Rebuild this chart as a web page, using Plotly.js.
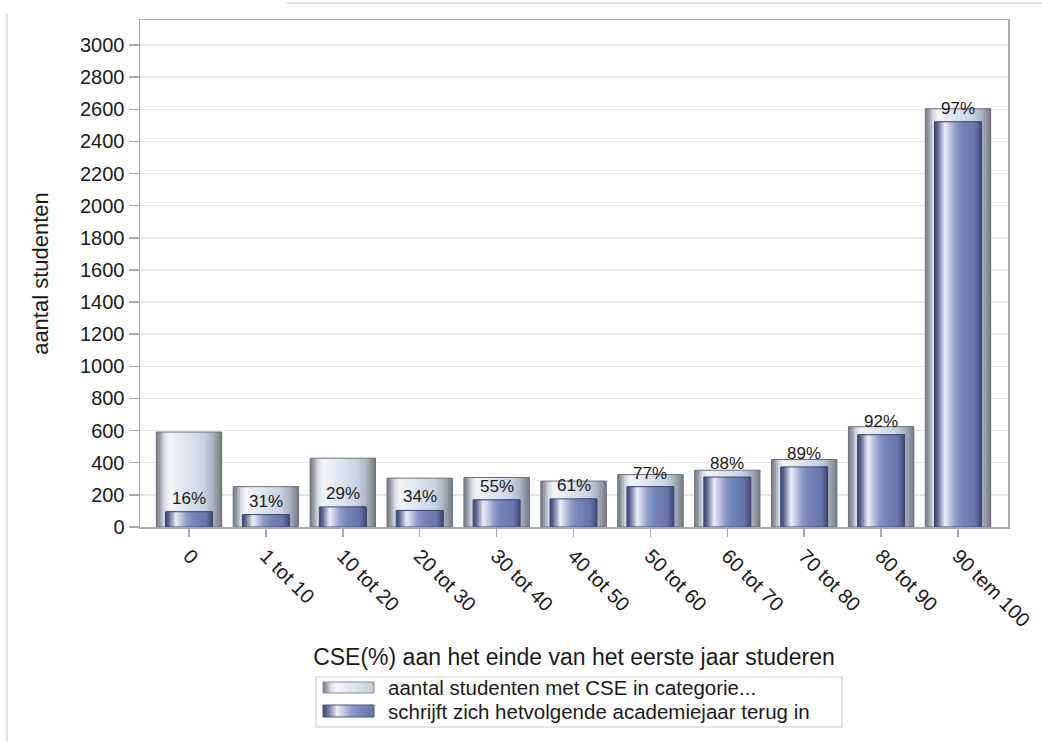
<!DOCTYPE html>
<html>
<head>
<meta charset="utf-8">
<script src="https://cdn.plot.ly/plotly-3.0.1.min.js"></script>
<style>
  html, body { margin: 0; padding: 0; background: #ffffff; }
  #chart { width: 1042px; height: 742px; }
</style>
</head>
<body>
<div id="chart"></div>
<script>
// ---------- data ----------
const categories = ['0', '1 tot 10', '10 tot 20', '20 tot 30', '30 tot 40', '40 tot 50',
                    '50 tot 60', '60 tot 70', '70 tot 80', '80 tot 90', '90 tem 100'];
const totalStudents = [591, 251, 428, 304, 308, 286, 326, 353, 420, 624, 2603];
const reEnrolled    = [95, 77, 125, 103, 169, 175, 251, 311, 374, 574, 2522];
const pctLabels     = ['16%', '31%', '29%', '34%', '55%', '61%', '77%', '88%', '89%', '92%', '97%'];
const seriesNames   = ['aantal studenten met CSE in categorie...',
                       'schrijft zich hetvolgende academiejaar terug in'];
const yTickValues   = [0, 200, 400, 600, 800, 1000, 1200, 1400, 1600, 1800, 2000, 2200, 2400, 2600, 2800, 3000];

// ---------- styling helpers ----------
const FONT = '"Liberation Sans", Arial, Helvetica, sans-serif';
const outerStops = [[0, '#737983'], [0.05, '#949ba5'], [0.12, '#d6dbe3'], [0.2, '#f3f5f9'],
                    [0.45, '#dfe6ef'], [0.72, '#c9d4e3'], [0.85, '#aeb7c3'], [0.94, '#8d949e'], [1, '#737983']];
const innerStops = [[0, '#3d4674'], [0.06, '#57618f'], [0.22, '#eceef7'], [0.45, '#8f9bca'],
                    [0.6, '#7484b8'], [0.85, '#6878ae'], [0.94, '#525d92'], [1, '#3d4674']];

function hexToRgb(h) {
  return [parseInt(h.slice(1, 3), 16), parseInt(h.slice(3, 5), 16), parseInt(h.slice(5, 7), 16)];
}
function gradColor(stops, t) {
  for (let i = 0; i < stops.length - 1; i++) {
    const [t0, c0] = stops[i], [t1, c1] = stops[i + 1];
    if (t >= t0 && t <= t1) {
      const f = (t - t0) / (t1 - t0 || 1);
      const a = hexToRgb(c0), b = hexToRgb(c1);
      const r = a.map((v, j) => Math.round(v + (b[j] - v) * f));
      return 'rgb(' + r.join(',') + ')';
    }
  }
  return stops[stops.length - 1][1];
}

const OUTER_W = 0.85, INNER_W = 0.61, N = 30;
const traces = [];

function addGradientBars(values, width, stops) {
  for (let k = 0; k < N; k++) {
    traces.push({
      type: 'bar', x: categories, y: values,
      width: width - k * width / N,
      offset: -width / 2 + k * width / N,
      marker: { color: gradColor(stops, (k + 0.5) / N), line: { width: 0 } },
      hoverinfo: 'skip', showlegend: false
    });
  }
}

addGradientBars(totalStudents, OUTER_W, outerStops);
traces.push({
  type: 'bar', x: categories, y: totalStudents, width: OUTER_W, name: seriesNames[0],
  marker: { color: 'rgba(0,0,0,0)', line: { color: '#6d737c', width: 1 } },
  hoverinfo: 'skip', showlegend: false
});
addGradientBars(reEnrolled, INNER_W, innerStops);
traces.push({
  type: 'bar', x: categories, y: reEnrolled, width: INNER_W, name: seriesNames[1],
  marker: { color: 'rgba(0,0,0,0)', line: { color: '#3c4572', width: 1 } },
  hoverinfo: 'skip', showlegend: false
});

// ---------- pixel helpers for layout decorations ----------
const W = 1042, H = 742, ML = 140, MR = 34, MT = 20, MB = 215;
const PW = W - ML - MR, PH = H - MT - MB;
const px = x => (x - ML) / PW;
const py = y => (H - MB - y) / PH;

const shapes = [];
const annotations = [];

// percentage labels above the re-enrolled bars
categories.forEach((c, i) => {
  annotations.push({ x: c, y: reEnrolled[i], xref: 'x', yref: 'y', text: pctLabels[i],
                     showarrow: false, xanchor: 'center', yanchor: 'bottom', yshift: 3, borderpad: 0,
                     font: { family: FONT, size: 17, color: '#1a1a1a' } });
});

// legend box
shapes.push({ type: 'rect', xref: 'paper', yref: 'paper', x0: px(316), x1: px(842), y0: py(727), y1: py(677),
              line: { color: '#c8c8c8', width: 1 }, fillcolor: '#ffffff', layer: 'above' });
const swatches = [[682, 693, outerStops, '#8a9099'], [705, 717, innerStops, '#4a5380']];
const SW = 24;
swatches.forEach(([top, bot, stops, lineCol], i) => {
  const x0 = 323, x1 = 374;
  for (let k = 0; k < SW; k++) {
    const a = x0 + (x1 - x0) * k / SW, b = x0 + (x1 - x0) * (k + 1) / SW + 0.6;
    shapes.push({ type: 'rect', xref: 'paper', yref: 'paper', x0: px(a), x1: px(Math.min(b, x1)),
                  y0: py(bot), y1: py(top), line: { width: 0 },
                  fillcolor: gradColor(stops, 0.8 * (k + 0.5) / SW), layer: 'above' });
  }
  shapes.push({ type: 'rect', xref: 'paper', yref: 'paper', x0: px(x0), x1: px(x1), y0: py(bot), y1: py(top),
                line: { color: lineCol, width: 1 }, fillcolor: 'rgba(0,0,0,0)', layer: 'above' });
  annotations.push({ xref: 'paper', yref: 'paper', x: px(386), y: py((top + bot) / 2),
                     xanchor: 'left', yanchor: 'middle', showarrow: false, text: seriesNames[i],
                     font: { family: FONT, size: 20.5, color: '#1a1a1a' } });
});

// outer frame lines of the captured image
shapes.push({ type: 'line', xref: 'paper', yref: 'paper', x0: px(7), x1: px(7), y0: py(14), y1: py(742),
              line: { color: '#d9d9d9', width: 1.5 } });
shapes.push({ type: 'line', xref: 'paper', yref: 'paper', x0: px(287), x1: px(1042), y0: py(3), y1: py(3),
              line: { color: '#d4d4d4', width: 1.5 } });

const layout = {
  width: W, height: H,
  margin: { l: ML, r: MR, t: MT, b: MB, pad: 0 },
  paper_bgcolor: '#ffffff', plot_bgcolor: '#ffffff',
  font: { family: FONT, color: '#1a1a1a' },
  barmode: 'overlay', showlegend: false,
  xaxis: {
    type: 'category', range: [-0.637, 10.65], autorange: false,
    showline: true, linecolor: '#a6abb1', linewidth: 1.5, mirror: true,
    ticks: 'outside', ticklen: 8, tickcolor: '#a6abb1', tickwidth: 1.5,
    tickangle: 45, tickfont: { family: FONT, size: 20, color: '#1a1a1a' },
    showgrid: false, zeroline: false, automargin: false,
    title: { text: 'CSE(%) aan het einde van het eerste jaar studeren', standoff: 18,
             font: { family: FONT, size: 23, color: '#1a1a1a' } }
  },
  yaxis: {
    range: [0, 3155.6], autorange: false,
    tickvals: yTickValues, ticktext: yTickValues.map(String),
    showline: true, linecolor: '#a6abb1', linewidth: 1.5, mirror: true,
    ticks: 'outside', ticklen: 10, tickcolor: '#a6abb1', tickwidth: 1.5,
    tickfont: { family: FONT, size: 20, color: '#1a1a1a' },
    showgrid: true, gridcolor: '#e6e6e6', gridwidth: 1.5, zeroline: false, automargin: false,
    title: { text: 'aantal studenten', standoff: 25,
             font: { family: FONT, size: 22, color: '#1a1a1a' } }
  },
  shapes: shapes,
  annotations: annotations
};

Plotly.newPlot('chart', traces, layout, { staticPlot: true, displayModeBar: false });
</script>
</body>
</html>
